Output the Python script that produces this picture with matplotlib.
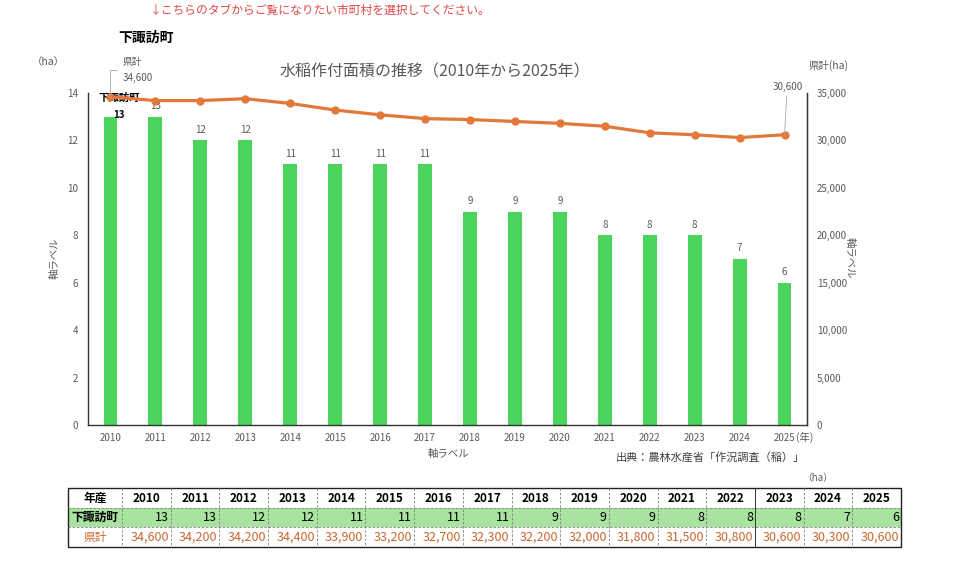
import matplotlib
matplotlib.use("Agg")
import matplotlib.pyplot as plt
from matplotlib.patches import Rectangle
from matplotlib.lines import Line2D

plt.rcParams['font.family'] = ['Noto Sans CJK JP', 'DejaVu Sans']

years = [2010, 2011, 2012, 2013, 2014, 2015, 2016, 2017, 2018, 2019, 2020, 2021, 2022, 2023, 2024, 2025]
town_vals = [13, 13, 12, 12, 11, 11, 11, 11, 9, 9, 9, 8, 8, 8, 7, 6]
pref_vals = [34600, 34200, 34200, 34400, 33900, 33200, 32700, 32300, 32200, 32000, 31800, 31500, 30800, 30600, 30300, 30600]
town_name = "下諏訪町"
pref_name = "県計"
left_ticks = [0, 2, 4, 6, 8, 10, 12, 14]
right_ticks = [0, 5000, 10000, 15000, 20000, 25000, 30000, 35000]

W, H = 960, 568
fig = plt.figure(figsize=(9.6, 5.68), dpi=100)

GREEN = "#4AD45C"
ORANGE = "#E2793A"
GRAY = "#595959"
BROWN = "#C9662E"

def fx(px):
    return px / W

def fy(py):
    return 1 - py / H

ax = fig.add_axes([fx(88), fy(425), fx(807) - fx(88), fy(93) - fy(425)])
x = list(range(len(years)))
ax.bar(x, town_vals, width=0.31, color=GREEN, zorder=2)
ax.set_xlim(-0.5, len(years) - 0.5)
ax.set_ylim(0, 14)
ax.set_yticks(left_ticks)
ax.set_yticklabels([str(t) for t in left_ticks])
ax.set_xticks(x)
ax.set_xticklabels([str(y) for y in years])
ax.tick_params(axis='y', length=0, labelsize=7, labelcolor=GRAY, pad=7)
ax.tick_params(axis='x', length=0, labelsize=7, labelcolor=GRAY, pad=6)
ax.spines['top'].set_visible(False)
for s in ['left', 'bottom', 'right']:
    ax.spines[s].set_color("#333333")
    ax.spines[s].set_linewidth(1.0)

for i, v in enumerate(town_vals):
    if i == 0:
        ax.annotate(str(v), (i, v), xytext=(6.5, 1), textcoords='offset points',
                    ha='center', va='center', fontsize=7, color='black', fontweight='bold', zorder=6)
        ax.annotate(town_name, (i, v), xytext=(6.5, 13.5), textcoords='offset points',
                    ha='center', va='center', fontsize=7.5, color='black', fontweight='bold', zorder=6)
    else:
        ax.annotate(str(v), (i, v), xytext=(0, 4), textcoords='offset points',
                    ha='center', va='bottom', fontsize=7, color=GRAY)

ax2 = ax.twinx()
ax2.plot(x, pref_vals, color=ORANGE, lw=2.3, marker='o', ms=5, zorder=3)
ax2.set_ylim(0, 35000)
ax2.set_yticks(right_ticks)
ax2.set_yticklabels([f"{t:,}" for t in right_ticks])
ax2.tick_params(axis='y', length=0, labelsize=7, labelcolor=GRAY, pad=7)
for s in ['top', 'left', 'bottom']:
    ax2.spines[s].set_visible(False)
ax2.spines['right'].set_color("#333333")

# first and last data labels for prefecture
ax2.annotate(f"{pref_name}\n{pref_vals[0]:,}", (0, pref_vals[0]), xytext=(8.5, 19.5),
             textcoords='offset points', ha='left', va='center', fontsize=7, color=GRAY,
             linespacing=1.7,
             arrowprops=dict(arrowstyle='-', color='#A6A6A6', lw=0.6, shrinkA=2, shrinkB=0,
                             relpos=(0, 0.5),
                             connectionstyle="angle,angleA=0,angleB=90,rad=0"))
ax2.annotate(f"{pref_vals[-1]:,}", (len(years) - 1, pref_vals[-1]), xytext=(2, 31),
             textcoords='offset points', ha='center', va='bottom', fontsize=7, color=GRAY,
             arrowprops=dict(arrowstyle='-', color='#A6A6A6', lw=0.6, shrinkA=1, shrinkB=0))

# texts
fig.text(fx(150), fy(10), "↓こちらのタブからご覧になりたい市町村を選択してください。",
         fontsize=8.5, color="#E04848", ha='left', va='center')
fig.text(fx(118), fy(38), town_name, fontsize=10, fontweight='bold', ha='left', va='center')
fig.text(fx(435), fy(72), "水稲作付面積の推移（2010年から2025年）", fontsize=11.5, color=GRAY,
         ha='center', va='center')
fig.text(fx(48), fy(62), "（ha）", fontsize=7.5, color=GRAY, ha='center', va='center')
fig.text(fx(828), fy(65), "県計(ha)", fontsize=7.5, color=GRAY, ha='center', va='center')
fig.text(fx(805), fy(437), "(年)", fontsize=7.5, color=GRAY, ha='center', va='center')
fig.text(fx(448), fy(454), "軸ラベル", fontsize=7.5, color=GRAY, ha='center', va='center')
fig.text(fx(55), fy(258), "軸ラベル", fontsize=7.5, color=GRAY, ha='center', va='center', rotation=90)
fig.text(fx(850), fy(258), "軸ラベル", fontsize=7.5, color=GRAY, ha='center', va='center', rotation=270)
fig.text(fx(805), fy(457), "出典：農林水産省「作況調査（稲）」", fontsize=8, color="#404040",
         ha='right', va='center')
fig.text(fx(818), fy(478), "（ha）", fontsize=7, color=GRAY, ha='center', va='center')

# table
tax = fig.add_axes([0, 0, 1, 1])
tax.set_xlim(0, W)
tax.set_ylim(H, 0)
tax.axis('off')
t_left, t_right = 68, 901
first_w = 54
row_y = [488, 508, 527, 547]
col_w = (t_right - t_left - first_w) / len(years)
tax.add_patch(Rectangle((t_left, row_y[1]), t_right - t_left, row_y[2] - row_y[1],
                        facecolor="#A9E3A0", edgecolor='none'))
for yy in row_y[1:3]:
    tax.add_line(Line2D([t_left, t_right], [yy, yy], color="#808080", lw=0.6, ls=(0, (3, 2))))
for j in range(len(years) + 1):
    xx = t_left + first_w + j * col_w
    if j == 13:
        tax.add_line(Line2D([xx, xx], [row_y[0], row_y[3]], color="#333333", lw=0.7))
    elif j < len(years):
        tax.add_line(Line2D([xx, xx], [row_y[0], row_y[3]], color="#808080", lw=0.6, ls=(0, (3, 2))))
tax.add_patch(Rectangle((t_left, row_y[0]), t_right - t_left, row_y[3] - row_y[0],
                        facecolor='none', edgecolor='#222222', lw=1.0))
cy = [(row_y[k] + row_y[k + 1]) / 2 for k in range(3)]
tax.text(t_left + first_w / 2, cy[0], "年産", ha='center', va='center', fontsize=8.5, fontweight='bold')
tax.text(t_left + first_w / 2, cy[1], town_name, ha='center', va='center', fontsize=8.5, fontweight='bold')
tax.text(t_left + first_w / 2, cy[2], pref_name, ha='center', va='center', fontsize=8.5, color=BROWN)
for j, yv in enumerate(years):
    cx = t_left + first_w + (j + 0.5) * col_w
    rx = t_left + first_w + (j + 1) * col_w - 2
    tax.text(cx, cy[0], str(yv), ha='center', va='center', fontsize=8.5, fontweight='bold')
    tax.text(rx, cy[1], str(town_vals[j]), ha='right', va='center', fontsize=9)
    tax.text(rx, cy[2], f"{pref_vals[j]:,}", ha='right', va='center', fontsize=9, color=BROWN)

fig.savefig("out.png", dpi=100)
